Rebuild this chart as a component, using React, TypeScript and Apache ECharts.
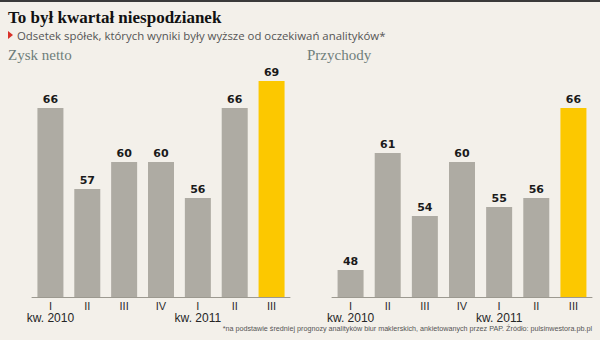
import React, { useEffect, useRef } from "react";
import * as echarts from "echarts";

const quarters = ["I", "II", "III", "IV", "I", "II", "III"];
const years = ["kw. 2010", "", "", "", "kw. 2011", "", ""];
const zyskNetto = [66, 57, 60, 60, 56, 66, 69];
const przychody = [48, 61, 54, 60, 55, 56, 66];
const highlightIndex = 6;

const title = "To był kwartał niespodzianek";
const subtitle = "Odsetek spółek, których wyniki były wyższe od oczekiwań analityków*";
const leftTitle = "Zysk netto";
const rightTitle = "Przychody";
const footnote =
  "*na podstawie średniej prognozy analityków biur maklerskich, ankietowanych przez PAP. Źródło: pulsinwestora.pb.pl";

const GRAY = "#aeaba3";
const YELLOW = "#fcc800";

export default function App() {
  const ref = useRef<HTMLDivElement>(null);
  useEffect(() => {
    if (!ref.current) return;
    const chart = echarts.init(ref.current, undefined, { renderer: "svg" });
    const mkData = (arr: number[]) =>
      arr.map((v, i) => ({
        value: v,
        itemStyle: { color: i === highlightIndex ? YELLOW : GRAY },
      }));
    const quarterAxis = (gridIndex: number) => ({
      type: "category" as const,
      gridIndex,
      data: quarters,
      axisLine: { lineStyle: { color: "#9c9990", width: 1 } },
      axisTick: { show: false },
      axisLabel: {
        margin: 3,
        interval: 0,
        fontFamily: "Liberation Sans",
        fontSize: 11,
        color: "#2e2e2e",
      },
    });
    const yearAxis = (gridIndex: number) => ({
      type: "category" as const,
      gridIndex,
      position: "bottom" as const,
      offset: 13,
      data: years,
      axisLine: { show: false },
      axisTick: { show: false },
      axisLabel: {
        margin: 2,
        interval: (i: number) => years[i] !== "",
        fontFamily: "Liberation Sans",
        fontSize: 12,
        color: "#262626",
      },
    });
    const yAxisBase = (gridIndex: number) => ({
      type: "value" as const,
      gridIndex,
      min: 45,
      max: 70,
      show: false,
      splitLine: { show: false },
    });
    const label = {
      show: true,
      position: "top" as const,
      distance: 3,
      fontFamily: "DejaVu Sans",
      fontWeight: "bold" as const,
      fontSize: 11,
      color: "#1a1a1a",
    };
    chart.setOption({
      animation: false,
      backgroundColor: "#f3f0ea",
      grid: [
        { left: 32, width: 258, top: 72, bottom: 43 },
        { left: 332, width: 260, top: 72, bottom: 43 },
      ],
      xAxis: [quarterAxis(0), quarterAxis(1), yearAxis(0), yearAxis(1)],
      yAxis: [yAxisBase(0), yAxisBase(1)],
      series: [
        {
          type: "bar",
          xAxisIndex: 0,
          yAxisIndex: 0,
          data: mkData(zyskNetto),
          barWidth: 26,
          label,
        },
        {
          type: "bar",
          xAxisIndex: 1,
          yAxisIndex: 1,
          data: mkData(przychody),
          barWidth: 26,
          label,
        },
      ],
      graphic: [
        { type: "rect", shape: { x: 0, y: 0, width: 600, height: 2 }, style: { fill: "#3a3a3a" } },
        {
          type: "text",
          x: 8,
          y: 17,
          style: {
            text: title,
            fontFamily: "Liberation Serif",
            fontWeight: "bold",
            fontSize: 17,
            fill: "#111",
            textVerticalAlign: "middle",
          },
        },
        {
          type: "polygon",
          shape: { points: [[8, 31], [13, 35], [8, 39]] },
          style: { fill: "#d9322a" },
        },
        {
          type: "text",
          x: 17,
          y: 35,
          style: {
            text: subtitle,
            fontFamily: "Open Sans",
            fontSize: 11.4,
            fill: "#555",
            textVerticalAlign: "middle",
          },
        },
        {
          type: "text",
          x: 8,
          y: 55,
          style: {
            text: leftTitle,
            fontFamily: "Liberation Serif",
            fontSize: 15,
            fill: "#6f7e7a",
            textVerticalAlign: "middle",
          },
        },
        {
          type: "text",
          x: 307,
          y: 55,
          style: {
            text: rightTitle,
            fontFamily: "Liberation Serif",
            fontSize: 15,
            fill: "#6f7e7a",
            textVerticalAlign: "middle",
          },
        },
        {
          type: "text",
          x: 592,
          y: 328,
          style: {
            text: footnote,
            fontFamily: "Liberation Sans",
            fontSize: 7.2,
            fill: "#555",
            textAlign: "right",
            textVerticalAlign: "middle",
          },
        },
      ],
    });
    return () => chart.dispose();
  }, []);
  return (
    <div
      ref={ref}
      style={{ position: "fixed", left: 0, top: 0, width: 600, height: 340 }}
    />
  );
}
